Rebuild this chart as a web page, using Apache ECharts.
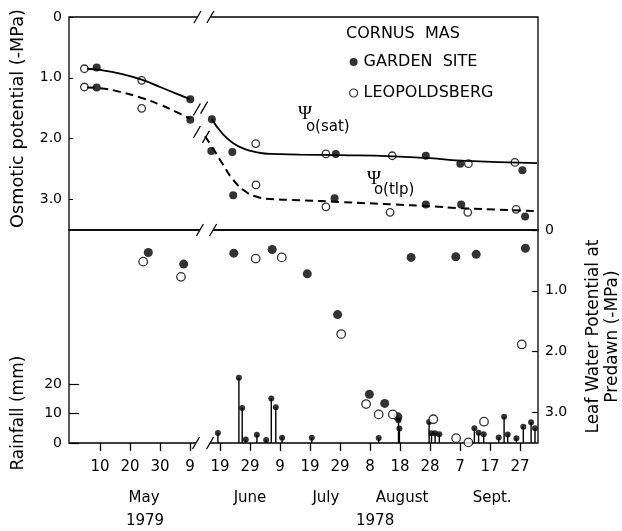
<!DOCTYPE html>
<html>
<head>
<meta charset="utf-8">
<script src="https://cdn.jsdelivr.net/npm/echarts@6/dist/echarts.min.js"></script>
<style>
  html, body { margin: 0; padding: 0; background: #fff; }
  #chart { width: 622px; height: 531px; }
</style>
</head>
<body>
<div id="chart"></div>
<script>
// x = days after the "10 May" tick; the axis is broken between the "9" and "19" ticks
const xMin = -10.33
const xMax = 146
const dayTicks = [0, 10, 20, 30, 40, 50, 60, 70, 80, 90, 100, 110, 120, 130, 140]
const dayTickLabels = ['10', '20', '30', '9', '19', '29', '9', '19', '29', '8', '18', '28', '7', '17', '27']
const monthNames = ['May', 'June', 'July', 'August', 'Sept.']
const monthDays = [14.7, 50, 75.3, 100.7, 130.7]
const yearNames = ['1979', '1978']
const yearDays = [15, 91.7]

const osmTicks = [0, 1, 2, 3]
const lwpTicks = [0, 1, 2, 3]
const rainTicks = [0, 10, 20]

// fitted curves, Psi o(sat) and Psi o(tlp)
const satCurve = [[-4.3, 0.85], [0, 0.87], [6.7, 0.93], [13.9, 1.03], [20, 1.15], [25, 1.25], [30, 1.35],
  [33, '-'], [37.3, 1.68], [40.7, 1.91], [44.3, 2.07], [48.3, 2.17], [52, 2.22], [56.7, 2.25],
  [66.7, 2.26], [80, 2.27], [97.7, 2.29], [110, 2.32], [120, 2.36], [145.7, 2.40]]
const tlpCurve = [[-4.3, 1.16], [0, 1.17], [6.7, 1.23], [13.9, 1.33], [20, 1.44], [25, 1.55], [30, 1.67],
  [33, '-'], [35, 1.96], [37.3, 2.13], [40.7, 2.40], [44.3, 2.67], [48.3, 2.86], [52, 2.95], [56.7, 2.99],
  [66.7, 3.01], [80, 3.04], [97.7, 3.08], [110, 3.11], [120, 3.14], [145.7, 3.19]]

// osmotic potential points
const osmGarden = [[-1.1, 0.83], [-1.1, 1.16], [30.1, 1.35], [30.1, 1.69], [37.3, 1.68], [37.1, 2.20],
  [44.1, 2.22], [44.4, 2.93], [78.6, 2.25], [78.2, 2.98], [108.6, 2.28], [108.6, 3.08],
  [120.1, 2.41], [120.4, 3.08], [140.8, 2.52], [141.7, 3.28]]
const osmLeop = [[-5.2, 0.85], [-5.2, 1.15], [13.9, 1.04], [13.9, 1.50], [51.9, 2.08], [52, 2.76],
  [75.3, 2.25], [75.3, 3.12], [97.4, 2.28], [96.7, 3.21], [122.8, 2.41], [122.6, 3.21],
  [138.3, 2.39], [138.7, 3.16]]

// leaf water potential at predawn
const lwpGarden = [[16.1, 0.37], [27.9, 0.56], [44.6, 0.38], [57.4, 0.32], [69.1, 0.72], [79.2, 1.39],
  [89.8, 2.70], [94.9, 2.85], [99.3, 3.07], [103.7, 0.45], [118.6, 0.44], [125.4, 0.40], [141.8, 0.30]]
const lwpLeop = [[14.4, 0.52], [27, 0.77], [51.9, 0.47], [60.6, 0.45], [80.4, 1.71], [88.7, 2.86],
  [92.9, 3.03], [97.6, 3.03], [111.1, 3.11], [118.7, 3.42], [122.8, 3.49], [128, 3.15], [140.6, 1.88]]

// rainfall (mm)
const rain = [[39.3, 3.4], [46.3, 22.1], [47.4, 11.9], [48.6, 1.2], [52.3, 2.8], [55.4, 1.0], [57.1, 15.1],
  [58.6, 12.1], [60.7, 1.8], [70.6, 1.8], [92.9, 1.7], [99.5, 7.7], [99.8, 4.9], [109.7, 7.1],
  [110.5, 3.3], [111.7, 3.3], [113.1, 3.0], [124.8, 5.0], [126.2, 3.5], [127.9, 3.0], [132.9, 1.9],
  [134.7, 8.9], [135.9, 2.9], [138.8, 1.6], [141.1, 5.5], [143.7, 7.0], [145.0, 5.0]]

const FONT = '"DejaVu Sans", sans-serif'
const tickFmt = v => (v === 0 ? '0' : v.toFixed(1))

const chart = echarts.init(document.getElementById('chart'))

const hiddenX = i => ({
  type: 'value', gridIndex: i, min: xMin, max: xMax,
  axisLine: { show: false, onZero: false }, axisTick: { show: false }, axisLabel: { show: false }, splitLine: { show: false }
})

const option = {
  animation: false,
  title: {
    text: 'CORNUS  MAS', left: 341, top: 21,
    textStyle: { fontFamily: FONT, fontSize: 16, fontWeight: 'normal', color: '#000' }
  },
  legend: {
    orient: 'vertical', left: 344, top: 49, itemGap: 15, itemWidth: 8, itemHeight: 8,
    selectedMode: false, icon: 'circle',
    textStyle: { fontFamily: FONT, fontSize: 16, color: '#000', padding: [0, 0, 0, 1] },
    data: [
      { name: 'GARDEN  SITE', itemStyle: { color: '#000' } },
      { name: 'LEOPOLDSBERG', itemStyle: { color: '#fff', borderColor: '#000', borderWidth: 1.2 } }
    ]
  },
  grid: [
    { left: 69, top: 17, width: 469, height: 213, show: true, borderColor: '#000', borderWidth: 1.3, outerBoundsMode: 'none' },
    { left: 69, top: 230, width: 469, height: 213, show: true, borderColor: '#000', borderWidth: 1.3, outerBoundsMode: 'none' },
    { left: 69, top: 369.25, width: 469, height: 73.75, outerBoundsMode: 'none' }
  ],
  xAxis: [
    hiddenX(0),
    hiddenX(1),
    {
      type: 'value', gridIndex: 2, min: xMin, max: xMax,
      axisLine: { show: false, onZero: false },
      splitLine: { show: false },
      axisTick: { show: true, customValues: dayTicks, length: 8, lineStyle: { color: '#000', width: 1.3 } },
      axisLabel: {
        customValues: dayTicks, margin: 17, color: '#000', fontFamily: FONT, fontSize: 15,
        formatter: v => dayTickLabels[dayTicks.indexOf(v)]
      }
    }
  ],
  yAxis: [
    {
      type: 'value', gridIndex: 0, inverse: true, min: 0, max: 3.5,
      name: 'Osmotic potential (-MPa)', nameLocation: 'middle', nameGap: 42, nameRotate: 90,
      nameTextStyle: { fontFamily: FONT, fontSize: 17.7, color: '#000', padding: [0, 0, 0, 10] },
      axisLine: { show: false, onZero: false }, splitLine: { show: false },
      axisTick: { show: true, inside: true, length: 4, customValues: osmTicks, lineStyle: { color: '#000' } },
      axisLabel: { customValues: osmTicks, margin: 7, color: '#000', fontFamily: FONT, fontSize: 14, formatter: tickFmt }
    },
    {
      type: 'value', gridIndex: 1, position: 'right', inverse: true, min: 0, max: 3.5,
      name: 'Leaf Water Potential at\nPredawn (-MPa)', nameLocation: 'middle', nameGap: 46, nameRotate: 90,
      nameTextStyle: { fontFamily: FONT, fontSize: 17, color: '#000', lineHeight: 19 },
      axisLine: { show: false, onZero: false }, splitLine: { show: false },
      axisTick: { show: true, inside: true, length: 6, customValues: lwpTicks, lineStyle: { color: '#000', width: 1.2 } },
      axisLabel: { customValues: lwpTicks, margin: 7, color: '#000', fontFamily: FONT, fontSize: 14, formatter: tickFmt }
    },
    {
      type: 'value', gridIndex: 2, min: 0, max: 25,
      name: 'Rainfall (mm)', nameLocation: 'middle', nameGap: 42, nameRotate: 90,
      nameTextStyle: { fontFamily: FONT, fontSize: 17, color: '#000', padding: [0, 14, 0, 0] },
      axisLine: { show: false, onZero: false }, splitLine: { show: false },
      axisTick: { show: true, inside: true, length: 10, customValues: rainTicks, lineStyle: { color: '#000', width: 1.2 } },
      axisLabel: { customValues: rainTicks, margin: 7, color: '#000', fontFamily: FONT, fontSize: 14 }
    }
  ],
  series: [
    {
      type: 'line', xAxisIndex: 0, yAxisIndex: 0, data: satCurve, smooth: 0.5,
      symbol: 'none', connectNulls: false, lineStyle: { color: '#000', width: 1.8 }
    },
    {
      type: 'line', xAxisIndex: 0, yAxisIndex: 0, data: tlpCurve, smooth: 0.5,
      symbol: 'none', connectNulls: false, lineStyle: { color: '#000', width: 2, type: [8, 5] }
    },
    {
      name: 'GARDEN  SITE', type: 'scatter', xAxisIndex: 0, yAxisIndex: 0, data: osmGarden,
      symbolSize: 8, itemStyle: { color: '#000' }
    },
    {
      name: 'LEOPOLDSBERG', type: 'scatter', xAxisIndex: 0, yAxisIndex: 0, data: osmLeop,
      symbolSize: 7.5, itemStyle: { color: '#fff', borderColor: '#000', borderWidth: 1.3 }
    },
    {
      type: 'bar', xAxisIndex: 2, yAxisIndex: 2, data: rain, barWidth: 1.4,
      itemStyle: { color: '#000' }
    },
    {
      type: 'scatter', xAxisIndex: 2, yAxisIndex: 2, data: rain, symbolSize: 6,
      itemStyle: { color: '#000' }
    },
    {
      name: 'GARDEN  SITE', type: 'scatter', xAxisIndex: 1, yAxisIndex: 1, data: lwpGarden,
      symbolSize: 9, itemStyle: { color: '#000' }
    },
    {
      name: 'LEOPOLDSBERG', type: 'scatter', xAxisIndex: 1, yAxisIndex: 1, data: lwpLeop,
      symbolSize: 8.5, itemStyle: { color: '#fff', borderColor: '#000', borderWidth: 1.3 }
    }
  ]
}

chart.setOption(option)

// axis-break marks, month names and curve labels, placed from data coordinates
const px = (gi, d, v) => chart.convertToPixel({ gridIndex: gi }, [d, v])
const graphic = []
const slash = (x, y) => graphic.push({
  type: 'line', z: 100, shape: { x1: x - 3.5, y1: y + 6, x2: x + 3.5, y2: y - 6 },
  style: { stroke: '#000', lineWidth: 1.3 }
})
const axisBreak = (gi, v, d1, d2) => {
  const a = px(gi, d1, v)
  const b = px(gi, d2, v)
  graphic.push({ type: 'rect', z: 99, shape: { x: a[0], y: a[1] - 2, width: b[0] - a[0], height: 4 }, style: { fill: '#fff' } })
  slash(a[0], a[1])
  slash(b[0], b[1])
}
axisBreak(0, 0, 32.5, 36.8)
axisBreak(0, 3.5, 33.3, 37.7)
axisBreak(1, 3.5, 32, 36.7)
// breaks on the fitted curves
;[[32.3, 1.52], [34.7, 1.49]].forEach(p => { const q = px(0, p[0], p[1]); slash(q[0], q[1]) })
;[[32.3, 1.89], [35.3, 1.97]].forEach(p => { const q = px(0, p[0], p[1]); slash(q[0], q[1]) })

const textEl = (x, y, text, font, align) => graphic.push({
  type: 'text', z: 100, x, y,
  style: { text, font, fill: '#000', align: align || 'center', verticalAlign: 'middle' }
})
const base = px(2, 0, 0)[1]
monthNames.forEach((m, i) => textEl(px(2, monthDays[i], 0)[0], base + 55, m, '15px ' + FONT))
yearNames.forEach((m, i) => textEl(px(2, yearDays[i], 0)[0], base + 78, m, '15px ' + FONT))

const sat = px(0, 68.3, 1.59)
textEl(sat[0], sat[1], 'Ψ', '19px "Liberation Serif", serif')
textEl(sat[0] + 1, sat[1] + 13, 'o(sat)', '15px ' + FONT, 'left')
const tlp = px(0, 91.3, 2.66)
textEl(tlp[0], tlp[1], 'Ψ', '19px "Liberation Serif", serif')
textEl(tlp[0], tlp[1] + 11, 'o(tlp)', '15px ' + FONT, 'left')

chart.setOption({ graphic })
</script>
</body>
</html>
